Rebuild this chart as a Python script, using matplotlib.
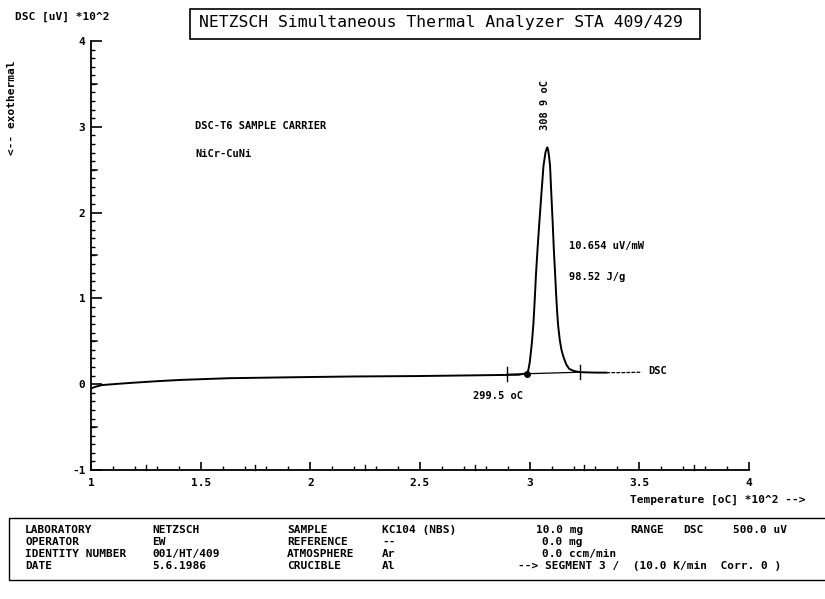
import matplotlib
matplotlib.use("Agg")
import matplotlib.pyplot as plt
from matplotlib.patches import Rectangle
import numpy as np

# ---- data (temperature in 10^2 oC, DSC in 10^2 uV) ----
temp_main = [1.00, 1.02, 1.05, 1.10, 1.18, 1.30, 1.41, 1.63, 1.95, 2.20, 2.49, 2.80,
             2.95, 2.99, 2.995, 3.000, 3.005, 3.010, 3.017, 3.023, 3.029, 3.036,
             3.044, 3.053, 3.063, 3.072, 3.078, 3.081, 3.085, 3.089, 3.093, 3.099,
             3.105, 3.110, 3.116, 3.120, 3.125, 3.130, 3.137, 3.145, 3.155, 3.167,
             3.180, 3.200, 3.230, 3.300, 3.350]
dsc_main = [-0.05, -0.03, -0.01, 0.00, 0.015, 0.035, 0.05, 0.07, 0.082, 0.09, 0.095, 0.105,
            0.11, 0.13, 0.18, 0.25, 0.36, 0.48, 0.70, 0.98, 1.29, 1.58,
            1.88, 2.20, 2.545, 2.70, 2.75, 2.76, 2.72, 2.64, 2.545, 2.20,
            1.88, 1.58, 1.29, 1.08, 0.85, 0.68, 0.52, 0.40, 0.31, 0.23,
            0.18, 0.155, 0.14, 0.135, 0.135]
temp_tail = [3.35, 3.43, 3.51]
dsc_tail = [0.135, 0.135, 0.14]

limit_temps = [2.897, 3.23]
limit_vals = [0.115, 0.14]
onset_temp = [2.99]
onset_val = [0.12]

x_ticks = [1, 1.5, 2, 2.5, 3, 3.5, 4]
x_tick_labels = ["1", "1.5", "2", "2.5", "3", "3.5", "4"]
y_ticks = [-1, 0, 1, 2, 3, 4]
y_tick_labels = ["-1", "0", "1", "2", "3", "4"]

W, H = 825, 599
MONO = "DejaVu Sans Mono"

fig = plt.figure(figsize=(W / 100, H / 100), dpi=100)
fig.patch.set_facecolor("white")

def fx(px):
    return px / W

def fy(py):
    return 1 - py / H

ax = fig.add_axes([fx(91), fy(470), fx(749) - fx(91), fy(41) - fy(470)])
ax.set_xlim(1, 4)
ax.set_ylim(-1, 4)
for s in ["top", "right"]:
    ax.spines[s].set_visible(False)
for s in ["left", "bottom"]:
    ax.spines[s].set_linewidth(1.3)

ax.set_xticks(x_ticks)
ax.set_xticklabels(x_tick_labels)
ax.set_yticks(y_ticks)
ax.set_yticklabels(y_tick_labels)
ax.set_xticks(np.arange(1, 4.001, 0.1), minor=True)
ax.set_yticks(np.arange(-1, 4.001, 0.1), minor=True)
ax.tick_params(which="major", direction="in", width=1.2, labelsize=8)
ax.tick_params(axis="y", which="major", length=8, pad=4)
ax.tick_params(axis="x", which="major", length=6, pad=6)
ax.tick_params(which="minor", direction="in", length=3, width=1.0)
for lab in ax.get_xticklabels() + ax.get_yticklabels():
    lab.set_fontfamily(MONO)
    lab.set_fontweight("bold")

# draw main curve
ax.plot(temp_main, dsc_main, color="black", lw=1.4, solid_joinstyle="round")
ax.plot(temp_tail, dsc_tail, color="black", lw=0.9, ls=(0, (3, 1)))
ax.plot([limit_temps[0], limit_temps[1]], limit_vals, color="black", lw=0.9)
for t, v in zip(limit_temps, limit_vals):
    ax.plot([t, t], [v - 0.08, v + 0.08], color="black", lw=1.0)
ax.plot(onset_temp, onset_val, "o", color="black", ms=4)

tk = dict(family=MONO, fontweight="bold", fontsize=7.5, color="black")
ax.text(3.072, 3.25, "308 9 oC", rotation=90, ha="center", va="center", **tk)
ax.text(3.18, 1.61, "10.654 uV/mW", ha="left", va="center", **tk)
ax.text(3.18, 1.25, "98.52 J/g", ha="left", va="center", **tk)
ax.text(2.856, -0.14, "299.5 oC", ha="center", va="center", **tk)
ax.text(3.54, 0.15, "DSC", ha="left", va="center", **tk)
ax.text(1.474, 3.01, "DSC-T6 SAMPLE CARRIER", ha="left", va="center", **tk)
ax.text(1.474, 2.68, "NiCr-CuNi", ha="left", va="center", **tk)

# medium ticks at .5
for v in np.arange(-0.5, 4, 1.0):
    ax.plot([0, 0.009], [v, v], transform=ax.get_yaxis_transform(), color="black", lw=1.1, clip_on=False)
for v in np.arange(1.25, 4, 0.5):
    ax.plot([v, v], [0, 0.011], transform=ax.get_xaxis_transform(), color="black", lw=1.0, clip_on=False)

ft = dict(family=MONO, fontweight="bold", fontsize=8, color="black")
fig.text(fx(15), fy(17), "DSC [uV] *10^2", ha="left", va="center", **ft)
fig.text(fx(12), fy(108), "<-- exothermal", rotation=90, ha="center", va="center", **ft)
fig.text(fx(805), fy(500), "Temperature [oC] *10^2 -->", ha="right", va="center", **ft)

# title box
fig.patches.append(Rectangle((fx(190), fy(39)), fx(700) - fx(190), fy(9) - fy(39),
                             transform=fig.transFigure, fill=False, ec="black", lw=1.2))
fig.text(fx(441), fy(23), "NETZSCH Simultaneous Thermal Analyzer STA 409/429",
         ha="center", va="center", family=MONO, fontsize=11.8, color="black")

# bottom info box
fig.patches.append(Rectangle((fx(9), fy(580)), fx(830) - fx(9), fy(518) - fy(580),
                             transform=fig.transFigure, fill=False, ec="black", lw=1.0))

info_col1 = ["LABORATORY", "OPERATOR", "IDENTITY NUMBER", "DATE"]
info_col2 = ["NETZSCH", "EW", "001/HT/409", "5.6.1986"]
info_col3 = ["SAMPLE", "REFERENCE", "ATMOSPHERE", "CRUCIBLE"]
info_col4 = ["KC104 (NBS)", "--", "Ar", "Al"]
info_col5 = ["10.0 mg", "0.0 mg", "0.0 ccm/min", ""]
row_y = [530, 542, 554, 566]
for i, y in enumerate(row_y):
    fig.text(fx(25), fy(y), info_col1[i], ha="left", va="center", **ft)
    fig.text(fx(152), fy(y), info_col2[i], ha="left", va="center", **ft)
    fig.text(fx(287), fy(y), info_col3[i], ha="left", va="center", **ft)
    fig.text(fx(382), fy(y), info_col4[i], ha="left", va="center", **ft)
    if info_col5[i]:
        fig.text(fx(536) if i == 0 else fx(542), fy(y), info_col5[i], ha="left", va="center", **ft)
fig.text(fx(630), fy(530), "RANGE", ha="left", va="center", **ft)
fig.text(fx(683), fy(530), "DSC", ha="left", va="center", **ft)
fig.text(fx(733), fy(530), "500.0 uV", ha="left", va="center", **ft)
fig.text(fx(518), fy(566), "--> SEGMENT 3 /  (10.0 K/min  Corr. 0 )", ha="left", va="center", **ft)

fig.savefig("out.png", dpi=100, facecolor="white")
